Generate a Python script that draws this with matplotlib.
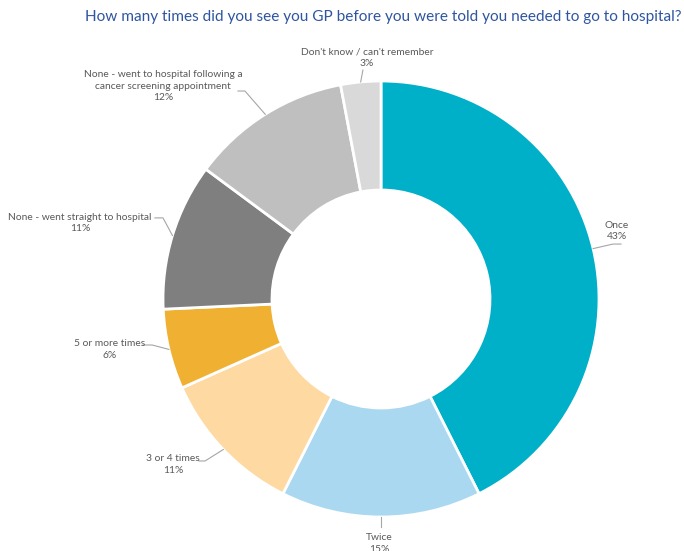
import numpy as np
import matplotlib.pyplot as plt

# Survey answers, clockwise from 12 o'clock
categories = [
    "Once",
    "Twice",
    "3 or 4 times",
    "5 or more times",
    "None - went straight to hospital",
    "None - went to hospital following a\ncancer screening appointment",
    "Don't know / can't remember",
]
percent = [43, 15, 11, 6, 11, 12, 3]
colors = ["#00AFC8", "#A9D8F0", "#FED9A2", "#F0B132", "#7F7F7F", "#BFBFBF", "#D9D9D9"]

# Label block centre, leader elbow and leader end (axes data units, pie radius = 1)
label_pos = [(1.083, 0.312), (-0.009, -1.122), (-0.954, -0.761), (-1.243, -0.232),
             (-1.381, 0.349), (-1.0, 0.977), (-0.064, 1.106)]
elbow_pos = [(1.064, 0.252), (0.0, -1.046), (-0.807, -0.743), (-1.050, -0.211),
             (-1.0, 0.372), (-0.624, 0.954), (-0.083, 1.050)]
end_pos = [(1.101, 0.252), (0.0, -1.046), (-0.835, -0.743), (-1.092, -0.211),
           (-1.037, 0.372), (-0.656, 0.954), (-0.083, 1.050)]

plt.rcParams["font.family"] = ["Lato", "DejaVu Sans"]

W, H = 684, 551
fig = plt.figure(figsize=(W / 100, H / 100), dpi=100)
cx, cy, r = 381, 299, 218
ax = fig.add_axes([(cx - r) / W, (H - cy - r) / H, 2 * r / W, 2 * r / H])

wedges, _ = ax.pie(percent, colors=colors, startangle=90, counterclock=False,
                   radius=1, wedgeprops=dict(width=0.5, edgecolor="white", linewidth=2))
ax.set_xlim(-1, 1)
ax.set_ylim(-1, 1)
ax.set_aspect("equal")
ax.axis("off")

for w, name, val, tp, ep, nd in zip(wedges, categories, percent, label_pos, elbow_pos, end_pos):
    mid = np.deg2rad((w.theta1 + w.theta2) / 2)
    start = (np.cos(mid), np.sin(mid))
    ax.plot([start[0], ep[0], nd[0]], [start[1], ep[1], nd[1]],
            color="#A6A6A6", lw=0.8, clip_on=False)
    ax.text(tp[0], tp[1], f"{name}\n{val}%", ha="center", va="center",
            fontsize=7.4, color="#595959", linespacing=1.4, clip_on=False)

fig.text(383 / W, 1 - 17 / H,
         "How many times did you see you GP before you were told you needed to go to hospital?",
         ha="center", va="center", fontsize=11.1, color="#2F55A0")

fig.savefig("out.png", dpi=100)
